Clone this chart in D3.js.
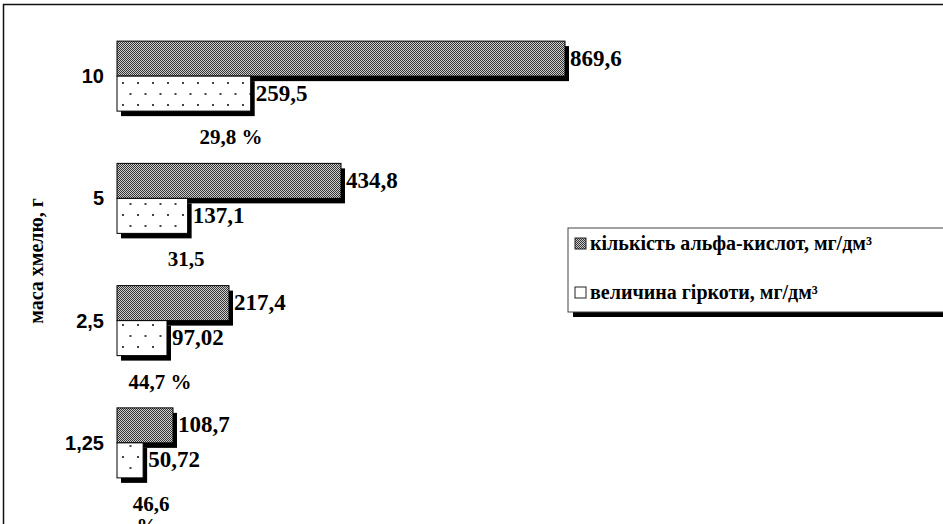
<!DOCTYPE html>
<html lang="uk">
<head>
<meta charset="UTF-8">
<title>маса хмелю</title>
<script src="https://d3js.org/d3.v7.min.js"></script>
<style>
body {margin: 0; background: white;}
svg {display: block;}
.val {font-family: "Liberation Serif", Tinos, "Times New Roman", serif; font-weight: bold; font-size: 23px;}
.cat {font-family: "Liberation Sans", Arial, sans-serif; font-weight: bold; font-size: 20px;}
</style>
</head>
<body>
<svg width="943" height="524"></svg>
<script>
// маса хмелю, г (top to bottom)
var categories = ["10", "5", "2,5", "1,25"];
var series = ["кількість альфа-кислот, мг/дм³", "величина гіркоти, мг/дм³"];
var alphaAcids = [869.6, 434.8, 217.4, 108.7];
var bitterness = [259.5, 137.1, 97.02, 50.72];
var alphaLabels = ["869,6", "434,8", "217,4", "108,7"];
var bitterLabels = ["259,5", "137,1", "97,02", "50,72"];
var pctLabels = [["29,8 %"], ["31,5"], ["44,7 %"], ["46,6", "%"]];
var pctX = [231, 186, 160, 151];

var svg = d3.select("svg");
var defs = svg.append("defs");

// fine checker for alpha acids
var p1 = defs.append("pattern").attr("id", "checker")
  .attr("width", 2).attr("height", 2).attr("patternUnits", "userSpaceOnUse");
p1.append("rect").attr("width", 2).attr("height", 2).attr("fill", "#cfcfcf");
p1.append("rect").attr("width", 1).attr("height", 1).attr("fill", "#333");
p1.append("rect").attr("x", 1).attr("y", 1).attr("width", 1).attr("height", 1).attr("fill", "#333");

// sparse dots for bitterness
var p2 = defs.append("pattern").attr("id", "dots")
  .attr("width", 15).attr("height", 22).attr("patternUnits", "userSpaceOnUse")
  .attr("x", 120).attr("y", 80);
p2.append("rect").attr("width", 15).attr("height", 22).attr("fill", "white");
[[2, 2], [9.5, 13]].forEach(function(p) {
  p2.append("rect").attr("x", p[0]).attr("y", p[1]).attr("width", 2).attr("height", 2).attr("fill", "#444");
});

// outer frame
svg.append("rect").attr("x", 3.5).attr("y", 4.5).attr("width", 960).attr("height", 600)
  .attr("fill", "none").attr("stroke", "#111").attr("stroke-width", 1.5);

var x = d3.scaleLinear().domain([0, 869.6]).range([117, 565]);
var y = d3.scaleBand().domain(categories).range([15, 504]);
var ys = d3.scaleBand().domain(series).range([-35, 35]);

var rows = categories.map(function(c, i) {
  return [
    {cat: c, s: series[0], v: alphaAcids[i], lab: alphaLabels[i], fill: "url(#checker)"},
    {cat: c, s: series[1], v: bitterness[i], lab: bitterLabels[i], fill: "url(#dots)"}
  ];
});
var bars = [].concat.apply([], rows);

var g = svg.append("g");
function by(d) { return y(d.cat) + y.bandwidth() / 2 + ys(d.s); }

// shadows first
g.selectAll("rect.shadow").data(bars).enter().append("rect")
  .attr("x", x(0) + 4).attr("y", function(d) { return by(d) + 5; })
  .attr("width", function(d) { return x(d.v) - x(0); })
  .attr("height", ys.bandwidth())
  .attr("fill", "black");

g.selectAll("rect.bar").data(bars).enter().append("rect")
  .attr("x", x(0)).attr("y", by)
  .attr("width", function(d) { return x(d.v) - x(0); })
  .attr("height", ys.bandwidth())
  .attr("fill", function(d) { return d.fill; })
  .attr("stroke", "black").attr("stroke-width", 1);

g.selectAll("text.val").data(bars).enter().append("text")
  .attr("class", "val")
  .attr("x", function(d) { return x(d.v) + 5; })
  .attr("y", function(d) { return by(d) + ys.bandwidth() / 2 + 7; })
  .text(function(d) { return d.lab; });

// category axis labels
svg.selectAll("text.cat").data(categories).enter().append("text")
  .attr("class", "cat")
  .attr("text-anchor", "end")
  .attr("x", 104)
  .attr("y", function(d) { return y(d) + y.bandwidth() / 2 + 7; })
  .text(function(d) { return d; });

// percentage annotations
categories.forEach(function(c, i) {
  var t = svg.append("text").attr("class", "val").style("font-size", "21px")
    .attr("text-anchor", "middle")
    .attr("x", pctX[i])
    .attr("y", y(c) + y.bandwidth() / 2 + 68);
  pctLabels[i].forEach(function(s, j) {
    t.append("tspan").attr("x", pctX[i] - j * 4).attr("dy", j ? 22 : 0).text(s);
  });
});

// axis title
svg.append("text").attr("class", "val").style("font-size", "20px")
  .attr("text-anchor", "middle")
  .attr("transform", "translate(43," + 261 + ") rotate(-90)")
  .text("маса хмелю, г");

// legend
var lg = svg.append("g").attr("transform", "translate(568,228)");
lg.append("rect").attr("x", 5).attr("y", 5).attr("width", 400).attr("height", 84).attr("fill", "black");
lg.append("rect").attr("width", 400).attr("height", 84).attr("fill", "white")
  .attr("stroke", "#444").attr("stroke-width", 1);
var fills = ["url(#checker)", "white"];
series.forEach(function(s, i) {
  var yy = 16 + i * 49;
  lg.append("rect").attr("x", 7).attr("y", yy - 6).attr("width", 11).attr("height", 11)
    .attr("fill", fills[i]).attr("stroke", "#222").attr("stroke-width", 1);
  lg.append("text").attr("class", "val").style("font-size", "20px")
    .attr("x", 22).attr("y", yy + 6).text(s);
});
</script>
</body>
</html>
